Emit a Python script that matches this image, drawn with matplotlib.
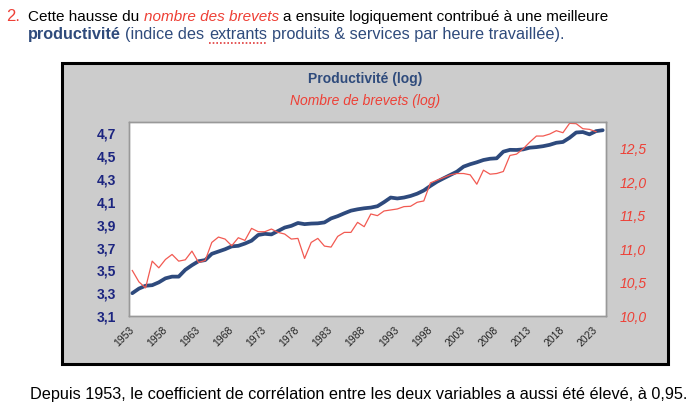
import matplotlib
matplotlib.use("Agg")
import matplotlib.pyplot as plt
from matplotlib.patches import Rectangle
from matplotlib.lines import Line2D

plt.rcParams['font.family'] = ['Liberation Sans', 'DejaVu Sans']

# ---------------- data ----------------
years = list(range(1953, 2025))
productivite = [3.30, 3.34, 3.365, 3.37, 3.395, 3.43, 3.445, 3.445, 3.505, 3.545,
                3.58, 3.59, 3.645, 3.665, 3.685, 3.71, 3.715, 3.735, 3.76, 3.81,
                3.82, 3.815, 3.845, 3.875, 3.89, 3.915, 3.905, 3.91, 3.912, 3.92,
                3.955, 3.975, 4.00, 4.023, 4.035, 4.044, 4.05, 4.062, 4.098, 4.138,
                4.13, 4.138, 4.152, 4.172, 4.20, 4.24, 4.277, 4.307, 4.336, 4.365,
                4.409, 4.43, 4.447, 4.467, 4.478, 4.482, 4.54, 4.556, 4.555, 4.56,
                4.575, 4.58, 4.588, 4.60, 4.618, 4.625, 4.662, 4.708, 4.712, 4.692,
                4.72, 4.728]
brevets = [10.68, 10.51, 10.42, 10.82, 10.72, 10.845, 10.92, 10.82, 10.84, 10.97,
           10.80, 10.83, 11.10, 11.18, 11.15, 11.05, 11.17, 11.13, 11.31, 11.26,
           11.26, 11.30, 11.25, 11.225, 11.15, 11.16, 10.86, 11.10, 11.16, 11.045,
           11.03, 11.19, 11.25, 11.25, 11.40, 11.335, 11.525, 11.50, 11.57, 11.585,
           11.60, 11.635, 11.64, 11.70, 11.72, 11.99, 12.03, 12.07, 12.11, 12.13,
           12.13, 12.11, 11.97, 12.18, 12.12, 12.13, 12.16, 12.40, 12.42, 12.50,
           12.60, 12.69, 12.69, 12.72, 12.77, 12.74, 12.88, 12.875, 12.80, 12.79,
           12.755]
xtick_years = list(range(1953, 2024, 5))
left_ticks = [3.1, 3.3, 3.5, 3.7, 3.9, 4.1, 4.3, 4.5, 4.7]
right_ticks = [10.0, 10.5, 11.0, 11.5, 12.0, 12.5]

# ---------------- style ----------------
W, H = 700, 420
BLUE = '#2E4A7D'
RED = '#EE4036'
REDLINE = '#F25A52'
NAVY = '#1C2580'
TXTBLUE = '#2F4B7C'

fig = plt.figure(figsize=(7, 4.2), dpi=100)
fig.patch.set_facecolor('white')
renderer = fig.canvas.get_renderer()


def fx(x):
    return x / W


def fy(y):
    return 1 - y / H


def measure(s, size, **kw):
    t = fig.text(0, 0, s, fontsize=size, **kw)
    w = t.get_window_extent(renderer).width
    t.remove()
    return w


def rich(x, y, pieces, size, target=None):
    def draw(sz):
        cur = x
        out = []
        for s, kw in pieces:
            sp = measure('a a', sz, **kw) - measure('aa', sz, **kw)
            lead = len(s) - len(s.lstrip(' '))
            trail = len(s) - len(s.rstrip(' '))
            cur += lead * sp
            core = s.strip(' ')
            t = fig.text(fx(cur), fy(y), core, fontsize=sz, va='baseline', ha='left', **kw)
            w = t.get_window_extent(renderer).width
            out.append((t, cur, w))
            cur += w + trail * sp
        return out, cur - x
    out, w = draw(size)
    if target is not None:
        for t, _, _ in out:
            t.remove()
        out, w = draw(size * target / w)
    return out


# ---------------- header text ----------------
fig.text(fx(6), fy(21), '2.', fontsize=12, color=RED, va='baseline', ha='left')
rich(28, 21, [('Cette hausse du ', dict(color='black')),
              ('nombre des brevets', dict(color=RED, style='italic')),
              (' a ensuite logiquement contribué à une meilleure', dict(color='black'))],
     12, target=578)
parts = rich(28, 39, [('productivité', dict(color=TXTBLUE, weight='bold')),
                      (' (indice des ', dict(color=TXTBLUE)),
                      ('extrants', dict(color=TXTBLUE)),
                      (' produits & services par heure travaillée).', dict(color=TXTBLUE))],
             12, target=535)
_, ex, ew = parts[2]
fig.add_artist(Line2D([fx(ex), fx(ex + ew)], [fy(42.5), fy(42.5)], transform=fig.transFigure,
                      color='#E03A3A', lw=1.2, ls=(0, (1, 1.2))))

# ---------------- chart box ----------------
fig.add_artist(Rectangle((fx(62), fy(364)), (668 - 62) / W, (364 - 63) / H,
                         transform=fig.transFigure, facecolor='#CCCCCC',
                         edgecolor='black', lw=2.2, zorder=-1))

fig.text(fx(365), fy(79), 'Productivité (log)', ha='center', va='center',
         fontsize=10, weight='bold', color=TXTBLUE)
fig.text(fx(365), fy(101), 'Nombre de brevets (log)', ha='center', va='center',
         fontsize=10, style='italic', color=RED)

ax = fig.add_axes([fx(129), fy(316), (606 - 129) / W, (316 - 122) / H])
ax.set_facecolor('white')
ax.plot(range(len(productivite)), productivite, color=BLUE, lw=2.7,
        solid_capstyle='round', solid_joinstyle='round')
ax.set_xlim(-0.5, len(years) - 0.5)
ax.set_ylim(3.1, 4.8)
ax.set_yticks(left_ticks)
ax.set_yticklabels([f'{v:.1f}'.replace('.', ',') for v in left_ticks],
                   fontsize=10, weight='bold', color=NAVY)
ax.set_xticks([years.index(y) for y in xtick_years])
ax.set_xticklabels([str(y) for y in xtick_years], rotation=45, ha='right',
                   va='center', rotation_mode='anchor', fontsize=7.5, color='#222222')
ax.tick_params(axis='x', length=0, pad=9)
ax.tick_params(axis='y', length=0, pad=9)
for sp in ax.spines.values():
    sp.set_color('#999999')
    sp.set_linewidth(1)

ax2 = ax.twinx()
ax2.plot(range(len(brevets)), brevets, color=REDLINE, lw=0.9)
ax2.set_ylim(10.0, 12.9)
ax2.set_yticks(right_ticks)
ax2.set_yticklabels([f'{v:.1f}'.replace('.', ',') for v in right_ticks],
                    fontsize=10, style='italic', color=RED)
ax2.tick_params(axis='y', length=0, pad=10)
for sp in ax2.spines.values():
    sp.set_color('#999999')
    sp.set_linewidth(1)

# ---------------- footer ----------------
rich(30, 399, [('Depuis 1953, le coefficient de corrélation entre les deux variables a aussi été élevé, à 0,95.',
                dict(color='black'))], 12, target=658)

fig.savefig('out.png', dpi=100, facecolor='white')
